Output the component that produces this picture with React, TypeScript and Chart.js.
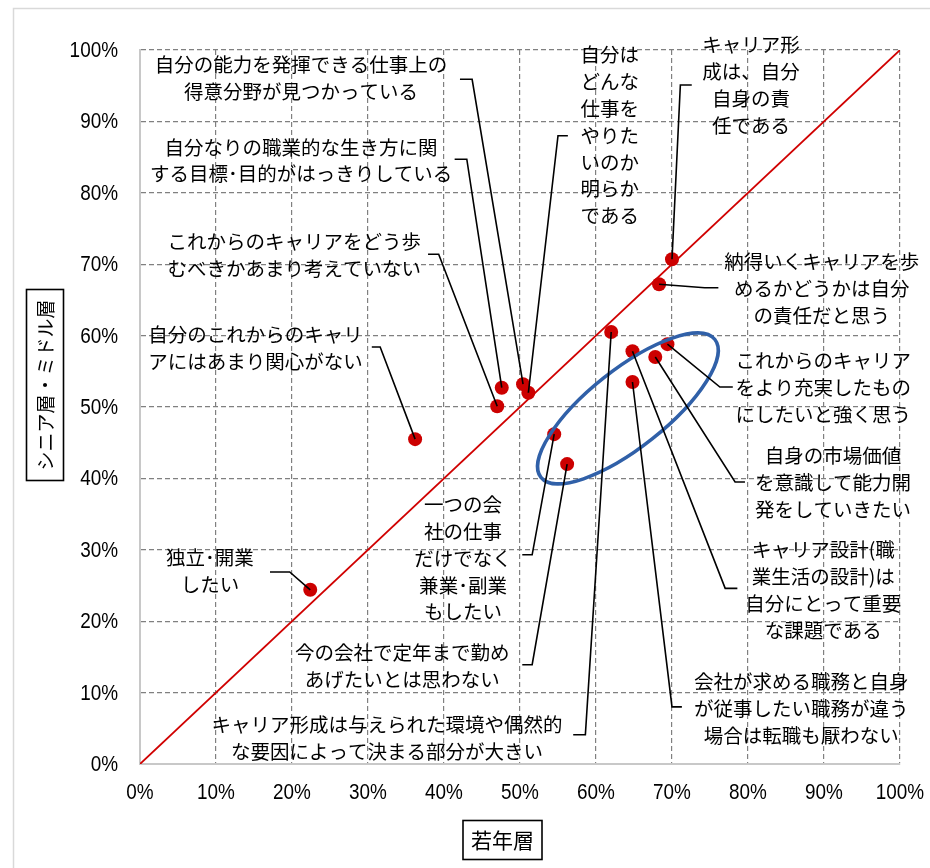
import React, { useEffect, useRef } from "react";
import { Chart, registerables } from "chart.js";

Chart.register(...registerables);

// 各項目について「そう思う」と答えた割合（%）
const itemLines: string[][] = [
  ["自分の能力を発揮できる仕事上の", "得意分野が見つかっている"],
  ["自分なりの職業的な生き方に関", "する目標･目的がはっきりしている"],
  ["これからのキャリアをどう歩", "むべきかあまり考えていない"],
  ["自分のこれからのキャリ", "アにはあまり関心がない"],
  ["独立･開業", "したい"],
  ["自分は", "どんな", "仕事を", "やりた", "いのか", "明らか", "である"],
  ["キャリア形", "成は、自分", "自身の責", "任である"],
  ["納得いくキャリアを歩", "めるかどうかは自分", "の責任だと思う"],
  ["これからのキャリア", "をより充実したもの", "にしたいと強く思う"],
  ["自身の市場価値", "を意識して能力開", "発をしていきたい"],
  ["キャリア設計(職", "業生活の設計)は", "自分にとって重要", "な課題である"],
  ["会社が求める職務と自身", "が従事したい職務が違う", "場合は転職も厭わない"],
  ["キャリア形成は与えられた環境や偶然的", "な要因によって決まる部分が大きい"],
  ["今の会社で定年まで勤め", "あげたいとは思わない"],
  ["一つの会", "社の仕事", "だけでなく", "兼業･副業", "もしたい"],
];

// 若年層（横軸）
const youngValues: number[] = [50.4, 47.6, 47.0, 36.2, 22.4, 51.1, 70.0, 68.3, 69.4, 67.8, 64.8, 64.8, 62.0, 56.2, 54.5];
// シニア層・ミドル層（縦軸）
const seniorValues: number[] = [53.2, 52.7, 50.1, 45.5, 24.4, 52.0, 70.7, 67.2, 58.8, 57.0, 57.8, 53.5, 60.5, 42.0, 46.2];

const axisTicks: number[] = [0, 10, 20, 30, 40, 50, 60, 70, 80, 90, 100];
const xTitle = "若年層";
const yTitle = "シニア層・ミドル層";

// ラベル配置（軸の値で指定）：文字列中心 x、1行目の y
const labelX: number[] = [21.2, 21.2, 20.3, 15.2, 9.2, 61.8, 80.4, 89.7, 89.9, 91.2, 89.9, 87.0, 32.5, 34.5, 42.5];
const labelY: number[] = [97.9, 86.4, 73.2, 60.1, 28.9, 99.3, 100.7, 70.3, 56.5, 43.2, 30.0, 11.5, 5.5, 15.6, 36.3];
// 引き出し線：ラベル側の端と折れ点
const leaderStart: [number, number][] = [
  [42.1, 95.9], [41.4, 84.7], [37.9, 71.4], [30.5, 58.4], [17.1, 26.9],
  [56.3, 88.0], [72.6, 95.1], [76.1, 66.7], [78.0, 52.8], [79.6, 39.5],
  [78.6, 24.6], [71.3, 8.0], [57.0, 4.1], [50.3, 13.9], [50.3, 29.3],
];
const leaderBend: [number, number][] = [
  [43.7, 95.9], [43.0, 84.7], [39.3, 71.4], [31.6, 58.4], [19.7, 26.9],
  [55.0, 88.0], [71.1, 95.1], [74.3, 66.7], [76.3, 52.8], [78.3, 39.5],
  [77.0, 24.6], [70.0, 8.0], [58.6, 4.1], [51.6, 13.9], [51.6, 29.3],
];
// 強調の楕円（中心は軸の値）
const ellipseCenter: [number, number] = [64.2, 49.8];

const JP_FONT = '"Noto Sans CJK JP", "Noto Sans", sans-serif';
const NUM_FONT = '"Liberation Sans", Arial, sans-serif';

const pct = (v: number) => `${v}%`;

// 目盛りラベルを幅の狭い字形で描く
function drawNarrowText(ctx: CanvasRenderingContext2D, text: string, x: number, y: number, align: CanvasTextAlign) {
  ctx.save();
  ctx.translate(x, y);
  ctx.scale(0.86, 1);
  ctx.textAlign = align;
  ctx.fillText(text, 0, 0);
  ctx.restore();
}

const annotationPlugin = {
  id: "careerAnnotations",
  afterDatasetsDraw(chart: any) {
    const { ctx } = chart;
    const xs = chart.scales.x;
    const ys = chart.scales.y;
    const px = (v: number) => xs.getPixelForValue(v);
    const py = (v: number) => ys.getPixelForValue(v);

    ctx.save();
    // 楕円
    ctx.beginPath();
    ctx.ellipse(px(ellipseCenter[0]), py(ellipseCenter[1]), 111, 39, (-38.4 * Math.PI) / 180, 0, Math.PI * 2);
    ctx.strokeStyle = "#3060a8";
    ctx.lineWidth = 3.5;
    ctx.stroke();

    // 引き出し線
    ctx.strokeStyle = "#000";
    ctx.lineWidth = 1.6;
    for (let i = 0; i < itemLines.length; i++) {
      ctx.beginPath();
      ctx.moveTo(px(leaderStart[i][0]), py(leaderStart[i][1]));
      ctx.lineTo(px(leaderBend[i][0]), py(leaderBend[i][1]));
      ctx.lineTo(px(youngValues[i]), py(seniorValues[i]));
      ctx.stroke();
    }

    // ラベル
    ctx.fillStyle = "#000";
    ctx.font = `19.5px ${JP_FONT}`;
    ctx.textAlign = "center";
    ctx.textBaseline = "middle";
    const lineH = 26.8;
    for (let i = 0; i < itemLines.length; i++) {
      const cx = px(labelX[i]);
      const cy = py(labelY[i]);
      itemLines[i].forEach((t, k) => ctx.fillText(t, cx, cy + k * lineH));
    }
    ctx.restore();
  },
  afterDraw(chart: any) {
    const { ctx, chartArea } = chart;
    const xs = chart.scales.x;
    const ys = chart.scales.y;
    ctx.save();
    // 外枠
    ctx.strokeStyle = "#d9d9d9";
    ctx.lineWidth = 1.5;
    ctx.strokeRect(13.5, 8.5, 1000, 1000);

    // 目盛りラベル
    ctx.fillStyle = "#000";
    ctx.font = `22px ${NUM_FONT}`;
    ctx.textBaseline = "middle";
    xs.ticks.forEach((t: any) => {
      drawNarrowText(ctx, pct(t.value), xs.getPixelForValue(t.value), chartArea.bottom + 29, "center");
    });
    ys.ticks.forEach((t: any) => {
      drawNarrowText(ctx, pct(t.value), chartArea.left - 22, ys.getPixelForValue(t.value) + 1, "right");
    });

    // 軸タイトル（枠付き）
    ctx.strokeStyle = "#000";
    ctx.lineWidth = 1.6;
    ctx.textAlign = "center";

    ctx.strokeRect(463, 820.5, 79, 39);
    ctx.font = `21px ${JP_FONT}`;
    ctx.fillText(xTitle, 502.5, 840.5);

    ctx.strokeRect(26.5, 289.5, 37, 191);
    ctx.translate(45, 385);
    ctx.rotate(-Math.PI / 2);
    ctx.font = `19px ${JP_FONT}`;
    ctx.fillText(yTitle, 0, 1);
    ctx.restore();
  },
};

export default function App() {
  const canvasRef = useRef<HTMLCanvasElement | null>(null);

  useEffect(() => {
    document.body.style.margin = "0";
    const canvas = canvasRef.current;
    if (!canvas) return;

    const points = youngValues.map((v, i) => ({ x: v, y: seniorValues[i] }));
    const gridColor = (c: any) => (c.tick && c.tick.value === 0 ? "rgba(0,0,0,0)" : "#808080");

    const chart = new Chart(canvas, {
      type: "scatter",
      data: {
        labels: itemLines.map((l) => l.join("")),
        datasets: [
          {
            type: "scatter",
            label: "項目",
            data: points,
            backgroundColor: "#cc0000",
            borderWidth: 0,
            pointRadius: 7,
            order: 1,
          },
          {
            type: "line",
            label: "対角線",
            data: [
              { x: axisTicks[0], y: axisTicks[0] },
              { x: axisTicks[axisTicks.length - 1], y: axisTicks[axisTicks.length - 1] },
            ],
            borderColor: "#d00000",
            borderWidth: 1.8,
            pointRadius: 0,
            fill: false,
            order: 2,
          },
        ],
      },
      options: {
        responsive: false,
        animation: false,
        devicePixelRatio: 1,
        layout: { padding: { left: 0, top: 50, right: 30, bottom: 0 } },
        plugins: {
          legend: { display: false },
          tooltip: { enabled: false },
        },
        scales: {
          x: {
            type: "linear",
            min: 0,
            max: 100,
            afterBuildTicks: (s: any) => {
              s.ticks = axisTicks.map((v) => ({ value: v }));
            },
            afterFit: (s: any) => {
              s.height = 104;
              s.paddingLeft = 0;
              s.paddingRight = 0;
            },
            ticks: { display: false },
            grid: { color: gridColor, lineWidth: 1.2, drawTicks: false },
            border: { display: true, color: "#c8c8c8", width: 2, dash: [5, 3] },
          },
          y: {
            type: "linear",
            min: 0,
            max: 100,
            afterBuildTicks: (s: any) => {
              s.ticks = axisTicks.map((v) => ({ value: v }));
            },
            afterFit: (s: any) => {
              s.width = 140;
              s.paddingTop = 0;
              s.paddingBottom = 0;
            },
            ticks: { display: false },
            grid: { color: gridColor, lineWidth: 1.2, drawTicks: false },
            border: { display: true, color: "#c8c8c8", width: 2, dash: [5, 3] },
          },
        },
      },
      plugins: [annotationPlugin],
    });

    return () => chart.destroy();
  }, []);

  return <canvas ref={canvasRef} width={930} height={868} style={{ display: "block" }} />;
}
